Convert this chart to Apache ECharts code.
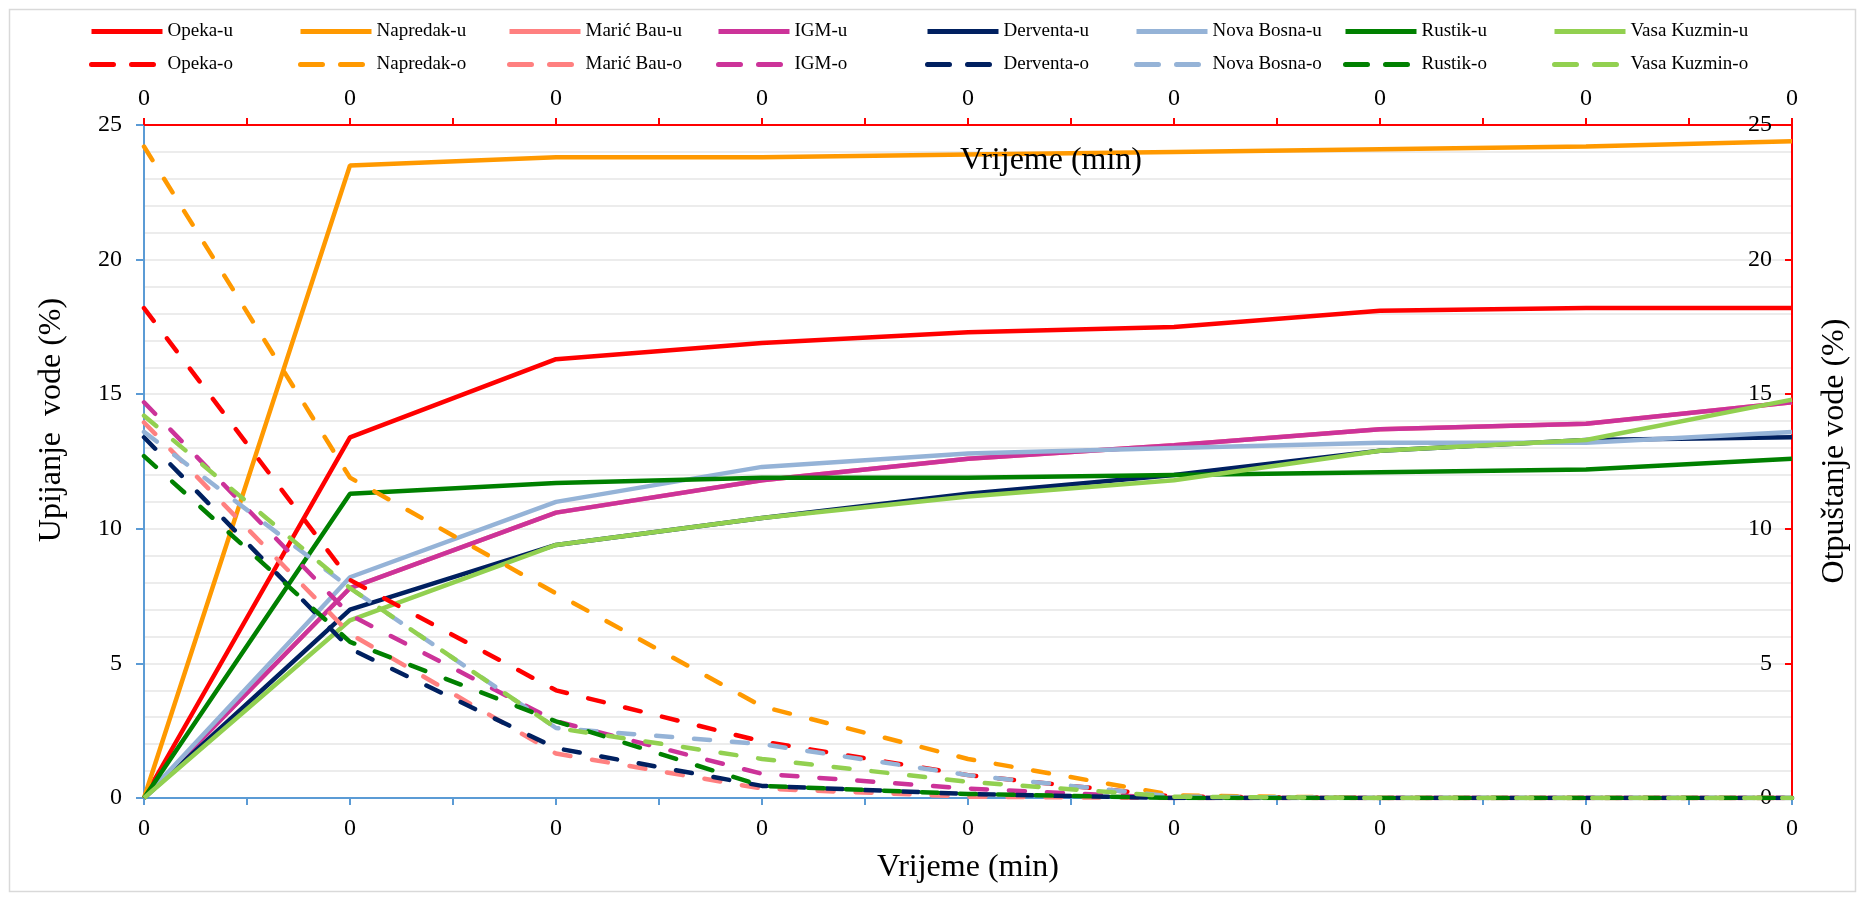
<!DOCTYPE html>
<html>
<head>
<meta charset="utf-8">
<script src="https://cdn.jsdelivr.net/npm/echarts@6/dist/echarts.min.js"></script>
<style>
html,body{margin:0;padding:0;background:#fff;}
#chart{width:1865px;height:898px;}
</style>
</head>
<body>
<div id="chart"></div>
<script>
// ---- data ----
const timeLabels = ['0','0','0','0','0','0','0','0','0'];
const materials = ['Opeka','Napredak','Marić Bau','IGM','Derventa','Nova Bosna','Rustik','Vasa Kuzmin'];

// Upijanje vode (%) - solid lines
const opekaU       = [0, 13.4, 16.3, 16.9, 17.3, 17.5, 18.1, 18.2, 18.2];
const napredakU    = [0, 23.5, 23.8, 23.8, 23.9, 24.0, 24.1, 24.2, 24.4];
const maricBauU    = [0, 7.8, 10.6, 11.8, 12.6, 13.1, 13.7, 13.9, 14.7];
const igmU         = [0, 7.8, 10.6, 11.8, 12.6, 13.1, 13.7, 13.9, 14.7];
const derventaU    = [0, 7.0, 9.4, 10.4, 11.3, 12.0, 12.9, 13.3, 13.4];
const novaBosnaU   = [0, 8.2, 11.0, 12.3, 12.8, 13.0, 13.2, 13.2, 13.6];
const rustikU      = [0, 11.3, 11.7, 11.9, 11.9, 12.0, 12.1, 12.2, 12.6];
const vasaKuzminU  = [0, 6.6, 9.4, 10.4, 11.2, 11.8, 12.9, 13.3, 14.8];

// Otpuštanje vode (%) - dashed lines
const opekaO       = [18.2, 8.1, 4.0, 2.1, 0.85, 0.05, 0, 0, 0];
const napredakO    = [24.2, 11.9, 7.6, 3.4, 1.45, 0.1, 0, 0, 0];
const maricBauO    = [13.95, 6.1, 1.65, 0.35, 0.05, 0, 0, 0, 0];
const igmO         = [14.7, 6.8, 2.85, 0.9, 0.35, 0, 0, 0, 0];
const derventaO    = [13.4, 5.55, 1.85, 0.45, 0.15, 0, 0, 0, 0];
const novaBosnaO   = [13.6, 7.8, 2.6, 2.0, 0.85, 0.05, 0, 0, 0];
const rustikO      = [12.7, 5.8, 2.85, 0.45, 0.15, 0, 0, 0, 0];
const vasaKuzminO  = [14.2, 7.8, 2.6, 1.45, 0.6, 0.05, 0, 0, 0];

const uData = [opekaU, napredakU, maricBauU, igmU, derventaU, novaBosnaU, rustikU, vasaKuzminU];
const oData = [opekaO, napredakO, maricBauO, igmO, derventaO, novaBosnaO, rustikO, vasaKuzminO];

// ---- styles ----
const colors = ['#FF0000','#FF9900','#FF8080','#CC3399','#002060','#95B3D7','#008000','#92D050'];
const FONT = '"Liberation Serif", "Times New Roman", serif';
const BLUE = '#5B9BD5';
const RED = '#FF0000';
const GRID = '#ECECEC';
const LW = 4.5;

const series = [];
materials.forEach((m, k) => {
  series.push({
    name: m + '-u', type: 'line', xAxisIndex: 0, yAxisIndex: 0,
    symbol: 'none', color: colors[k],
    lineStyle: { width: LW, color: colors[k] },
    data: uData[k].map((v, i) => [i, v])
  });
});
materials.forEach((m, k) => {
  series.push({
    name: m + '-o', type: 'line', xAxisIndex: 1, yAxisIndex: 1,
    symbol: 'none', color: colors[k],
    lineStyle: { width: LW, color: colors[k], type: [16, 22], cap: 'round' },
    data: oData[k].map((v, i) => [i, v])
  });
});

const legends = materials.map((m, k) => ({
  orient: 'vertical', left: 84 + k * 209, top: 17,
  itemWidth: 71, itemHeight: 14, itemGap: 14,
  itemStyle: { opacity: 0 },
  lineStyle: { width: 5 },
  textStyle: { fontFamily: FONT, fontSize: 19, color: '#000' },
  data: [
    { name: m + '-u' },
    { name: m + '-o', lineStyle: { type: [22, 18], cap: 'round', width: 5 } }
  ]
}));

function xAxisDef(pos, col, margin) {
  return {
    type: 'value', position: pos, min: 0, max: 8, interval: 1,
    axisLine: { show: true, onZero: false, lineStyle: { color: col, width: 2 } },
    axisTick: { show: true, length: 7, lineStyle: { color: col, width: 2 } },
    minorTick: { show: true, splitNumber: 2, length: 7, lineStyle: { color: col, width: 2 } },
    splitLine: { show: false },
    axisLabel: { margin: margin, fontSize: 24, fontFamily: FONT, color: '#000',
      formatter: v => timeLabels[Math.round(v)] }
  };
}

const option = {
  animation: false,
  backgroundColor: '#fff',
  grid: { left: 144, right: 73, top: 125, bottom: 100, containLabel: false },
  legend: legends,
  xAxis: [xAxisDef('bottom', BLUE, 19), xAxisDef('top', RED, 14)],
  yAxis: [
    {
      type: 'value', position: 'left', min: 0, max: 25, interval: 5,
      axisLine: { show: true, onZero: false, lineStyle: { color: BLUE, width: 2 } },
      axisTick: { show: true, length: 8, lineStyle: { color: BLUE, width: 2 } },
      axisLabel: { margin: 22, fontSize: 24, fontFamily: FONT, color: '#000' },
      splitLine: { show: true, lineStyle: { color: GRID, width: 2 } },
      minorTick: { show: false, splitNumber: 5 },
      minorSplitLine: { show: true, lineStyle: { color: GRID, width: 2 } }
    },
    {
      type: 'value', position: 'right', min: 0, max: 25, interval: 5,
      axisLine: { show: true, onZero: false, lineStyle: { color: RED, width: 2 } },
      axisTick: { show: true, inside: true, length: 7, lineStyle: { color: RED, width: 2 } },
      axisLabel: { inside: true, margin: 20, fontSize: 24, fontFamily: FONT, color: '#000' },
      splitLine: { show: false }
    }
  ],
  graphic: [
    { type: 'rect', z: -10, silent: true,
      shape: { x: 9.5, y: 9.5, width: 1846, height: 882 },
      style: { fill: 'transparent', stroke: '#D9D9D9', lineWidth: 1.5 } },
    { type: 'text', x: 52, y: 420, rotation: Math.PI / 2,
      style: { text: 'Upijanje  vode (%)', font: '32px ' + FONT, fill: '#000', align: 'center', verticalAlign: 'middle' } },
    { type: 'text', x: 1835, y: 451, rotation: Math.PI / 2,
      style: { text: 'Otpuštanje vode (%)', font: '32px ' + FONT, fill: '#000', align: 'center', verticalAlign: 'middle' } },
    { type: 'text', x: 968, y: 868,
      style: { text: 'Vrijeme (min)', font: '32px ' + FONT, fill: '#000', align: 'center', verticalAlign: 'middle' } },
    { type: 'text', x: 960, y: 161, z: 100,
      style: { text: 'Vrijeme (min)', font: '32px ' + FONT, fill: '#000', align: 'left', verticalAlign: 'middle' } }
  ],
  series: series
};

const chart = echarts.init(document.getElementById('chart'), null, { renderer: 'canvas' });
chart.setOption(option);
</script>
</body>
</html>
